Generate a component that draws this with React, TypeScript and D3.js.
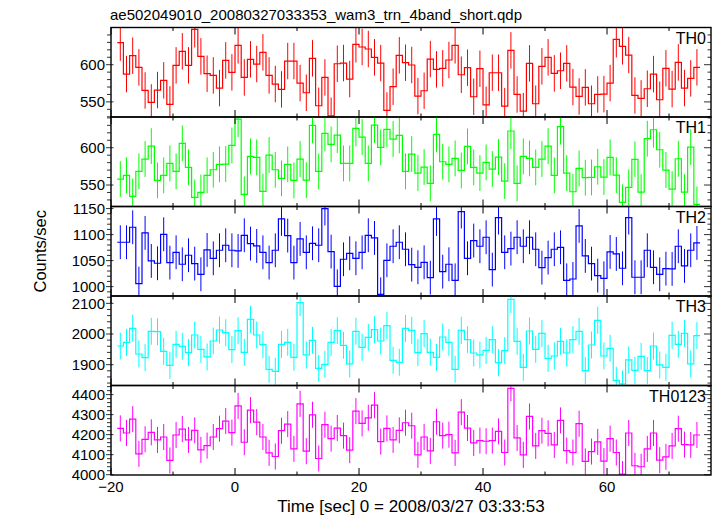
import React from 'react';
import * as d3 from 'd3';

// ---- data (1-s bins, lower edges from -19 to 74) ----
const firstBinEdge = -19;
const binWidth = 1;

const th0 = [
  629.6, 587.4, 612.1, 596.4, 565.4, 549.3, 565.9, 578.9, 546.6, 599.1,
  618.0, 599.1, 647.6, 611.2, 587.9, 585.6, 568.6, 605.8, 589.7, 626.0,
  582.9, 607.2, 600.9, 616.6, 585.6, 574.0, 566.8, 604.9, 604.9, 575.3,
  562.3, 608.5, 544.8, 582.9, 531.3, 601.3, 602.2, 580.7, 627.4, 623.8,
  621.1, 609.9, 602.2, 538.5, 570.4, 612.6, 602.7, 599.6, 557.8, 565.0,
  607.6, 593.7, 595.1, 606.3, 626.0, 586.5, 596.0, 556.9, 594.6, 546.1,
  589.2, 589.2, 544.3, 619.3, 560.0, 537.6, 601.8, 547.5, 597.8, 609.9,
  588.3, 591.9, 601.8, 569.9, 557.3, 569.5, 547.5, 560.0, 560.5, 575.3,
  634.1, 624.7, 613.0, 558.7, 554.7, 567.7, 587.4, 552.9, 595.1, 567.2,
  603.1, 568.6, 581.6, 596.4,
];

const th1 = [
  558.0, 562.9, 534.7, 568.3, 584.8, 602.2, 556.2, 562.9, 579.0, 568.3,
  605.8, 573.6, 533.4, 540.1, 562.9, 570.5, 577.7, 578.1, 603.1, 638.4,
  537.4, 588.4, 587.0, 541.4, 590.2, 570.5, 558.9, 577.7, 556.2, 584.8,
  556.6, 629.9, 568.3, 619.2, 604.5, 617.0, 579.0, 579.0, 625.9, 614.3,
  579.0, 630.4, 600.4, 624.6, 611.6, 616.5, 568.3, 591.5, 566.0, 574.1,
  552.2, 617.9, 581.2, 577.7, 585.7, 569.6, 601.8, 573.6, 566.0, 580.3,
  571.4, 587.5, 555.3, 622.4, 552.2, 588.4, 585.7, 573.6, 584.8, 602.2,
  562.9, 628.2, 566.0, 541.0, 572.3, 559.8, 560.2, 574.5, 560.7, 587.0,
  563.3, 526.7, 546.8, 584.4, 540.5, 612.1, 624.1, 597.3, 570.1, 544.6,
  585.2, 540.5, 600.9, 524.0,
];

const th2 = [
  1085.3, 1085.3, 1114.1, 1005.8, 1103.2, 1049.4, 1044.9, 1100.6, 1046.2, 1066.0,
  1043.0, 1060.3, 1044.2, 1023.7, 1070.5, 1054.5, 1069.9, 1079.5, 1069.9, 1068.6,
  1098.7, 1082.7, 1078.2, 1066.0, 1046.2, 1069.9, 1130.1, 1098.1, 1046.2, 1091.7,
  1066.0, 1083.3, 1079.5, 1150.0, 1067.3, 1000.6, 1052.6, 1064.1, 1054.5, 1066.0,
  1098.7, 1093.6, 985.3, 1050.6, 1077.6, 1085.3, 1071.8, 1042.3, 1037.2, 1046.8,
  1017.3, 1130.1, 1028.8, 1043.0, 1012.2, 1144.2, 1054.5, 1088.5, 1077.6, 1094.9,
  1032.7, 1132.7, 1066.0, 1073.1, 1094.9, 1077.6, 1094.9, 1071.8, 1036.5, 1055.8,
  1071.8, 1075.6, 1012.2, 1014.7, 1116.7, 1059.0, 1044.2, 1021.2, 1016.0, 1066.7,
  1062.8, 1035.3, 1132.7, 1018.0, 1018.0, 1069.9, 1037.2, 1023.7, 1034.6, 1034.0,
  1077.6, 1039.8, 1069.9, 1084.0,
];

const th3 = [
  1960.9, 1972.9, 2018.5, 1934.8, 1922.9, 2008.7, 2007.6, 1943.5, 1897.9, 1966.3,
  1959.8, 1939.2, 1996.7, 1950.0, 1925.1, 1977.2, 2013.0, 2004.3, 1949.0, 2010.9,
  1940.3, 2047.8, 1996.7, 1965.2, 1884.9, 1878.4, 1966.3, 1972.9, 1924.0, 2102.1,
  1931.6, 1979.4, 1888.1, 1901.2, 1972.9, 2010.9, 1963.1, 1902.3, 2008.7, 1956.6,
  1989.1, 2014.1, 1977.2, 2027.2, 1914.2, 1907.7, 2018.5, 2011.9, 1939.2, 2001.1,
  1940.3, 1924.0, 1990.2, 1972.9, 1884.9, 2011.9, 1981.5, 1938.1, 1931.6, 1946.8,
  1981.5, 1906.6, 1945.7, 2112.9, 1976.1, 1891.4, 2009.8, 1950.0, 2002.2, 1920.7,
  1928.3, 1976.1, 1938.1, 1981.5, 2008.7, 1880.5, 1964.2, 2044.5, 1928.3, 1953.3,
  1849.0, 1837.1, 1915.3, 1881.6, 1927.2, 1880.5, 1960.9, 1899.0, 1891.4, 1995.7,
  1966.3, 2002.2, 1902.3, 1994.6,
];

const th0123 = [
  4231.4, 4208.3, 4277.7, 4104.1, 4176.9, 4211.6, 4173.6, 4188.4, 4071.1, 4198.4,
  4228.1, 4173.6, 4221.5, 4124.0, 4145.5, 4188.4, 4229.8, 4267.8, 4209.9, 4343.8,
  4162.0, 4322.3, 4262.8, 4188.4, 4109.1, 4090.9, 4219.8, 4252.9, 4128.9, 4353.7,
  4117.4, 4299.2, 4081.0, 4249.6, 4180.2, 4233.1, 4195.1, 4122.3, 4317.4, 4256.2,
  4284.3, 4347.1, 4165.3, 4231.4, 4173.6, 4221.5, 4259.5, 4244.6, 4099.2, 4188.4,
  4119.0, 4264.5, 4195.1, 4200.0, 4109.1, 4312.4, 4233.1, 4158.7, 4170.3, 4167.0,
  4170.3, 4216.5, 4110.8, 4431.4, 4183.5, 4099.2, 4290.9, 4143.8, 4219.8, 4206.6,
  4148.8, 4271.1, 4120.7, 4110.8, 4254.6, 4066.1, 4115.7, 4163.6, 4067.8, 4180.2,
  4110.8, 4003.3, 4208.3, 4044.6, 4039.7, 4128.9, 4208.3, 4072.7, 4089.3, 4143.8,
  4229.8, 4150.4, 4148.8, 4198.4,
];

const panelNames = ['TH0', 'TH1', 'TH2', 'TH3', 'TH0123'];
const panelSeries = [th0, th1, th2, th3, th0123];
const panelColors = ['#ff0000', '#00ff00', '#0000ff', '#00ffff', '#ff00ff'];
const panelErrors = [24.5, 24, 32.5, 44, 65];
const panelDomains: [number, number][] = [
  [529.7, 650], [521.2, 641.2], [982, 1154], [1832, 2124], [3998.5, 4445.5],
];
const panelMajorTicks = [
  [550, 600], [550, 600], [1000, 1050, 1100, 1150], [1900, 2000, 2100],
  [4000, 4100, 4200, 4300, 4400],
];
const panelMinorStep = [10, 10, 10, 20, 20];
const xDomain: [number, number] = [-20, 76.77];
const xLabelTicks = [-20, 0, 20, 40, 60];
const xMinorStep = 10;

const title = 'ae502049010_20080327033353_wam3_trn_4band_short.qdp';
const xTitle = 'Time [sec] 0 = 2008/03/27 03:33:53';
const yTitle = 'Counts/sec';

// ---- layout ----
const W = 717, H = 516;
const left = 111, right = 711;
const top = 27.5, bottom = 475;
const nPanels = 5;
const ph = (bottom - top) / nPanels;
const font = 'Liberation Sans, Arial, Helvetica, sans-serif';

export default function App() {
  const x = d3.scaleLinear().domain(xDomain).range([left, right]);
  const xTickVals = d3.range(-20, 76.7, xMinorStep);
  const line = d3.line<[number, number]>().x(d => d[0]).y(d => d[1]);

  return (
    <svg width={W} height={H} viewBox={`0 0 ${W} ${H}`}
      style={{ position: 'absolute', left: 0, top: 0, background: '#fff' }}
      fontFamily={font}>
      <rect x={0} y={0} width={W} height={H} fill="#fff" />
      <defs>
        {panelNames.map((n, i) => (
          <clipPath id={`clip${i}`} key={n}>
            <rect x={left} y={top + i * ph} width={right - left} height={ph} />
          </clipPath>
        ))}
      </defs>
      <text x={left - 1} y={20} fontSize={15} fill="#000">{title}</text>
      {panelNames.map((name, i) => {
        const y0 = top + i * ph;
        const y1 = y0 + ph;
        const y = d3.scaleLinear().domain(panelDomains[i]).range([y1, y0]);
        const vals = panelSeries[i];
        const pts: [number, number][] = [];
        vals.forEach((v, k) => {
          const e0 = firstBinEdge + k * binWidth;
          pts.push([x(e0), y(v)]);
          pts.push([x(e0 + binWidth), y(v)]);
        });
        const err = panelErrors[i];
        const color = panelColors[i];
        const [d0, d1] = panelDomains[i];
        const minorVals = d3.range(Math.ceil(d0 / panelMinorStep[i]) * panelMinorStep[i], d1, panelMinorStep[i]);
        const majors = panelMajorTicks[i];
        return (
          <g key={name}>
            <g clipPath={`url(#clip${i})`}>
              {vals.map((v, k) => {
                const c = x(firstBinEdge + (k + 0.5) * binWidth);
                return <line key={k} x1={c} x2={c} y1={y(v - err)} y2={y(v + err)} stroke={color} strokeWidth={1} />;
              })}
              <path d={line(pts) || ''} fill="none" stroke={color} strokeWidth={1.2} />
            </g>
            {minorVals.map(t => {
              const isMajor = majors.some(m => Math.abs(m - t) < 1e-6);
              const yy = y(t);
              return (
                <g key={t}>
                  <line x1={isMajor ? left - 5 : left - 4} x2={isMajor ? left + 2.5 : left} y1={yy} y2={yy} stroke="#333" strokeWidth={1} />
                  <line x1={right} x2={right - (isMajor ? 7 : 3.5)} y1={yy} y2={yy} stroke="#333" strokeWidth={1} />
                </g>
              );
            })}
            {majors.map(t => (
              <text key={t} x={left - 6} y={y(t)} dy="0.36em" textAnchor="end" fontSize={15} fill="#000">{t}</text>
            ))}
            {xTickVals.map(t => {
              const isMajor = xLabelTicks.includes(t);
              const len = isMajor ? 7 : 3.5;
              const xx = x(t);
              return (
                <g key={t}>
                  <line x1={xx} x2={xx} y1={y0} y2={y0 + len} stroke="#000" strokeWidth={1} />
                  <line x1={xx} x2={xx} y1={y1} y2={y1 - len} stroke="#000" strokeWidth={1} />
                </g>
              );
            })}
            <rect x={left} y={y0} width={right - left} height={ph} fill="none" stroke="#000" strokeWidth={1.4} />
            <text x={706} y={y0 + 16} textAnchor="end" fontSize={16} fill="#000">{name}</text>
          </g>
        );
      })}
      {xLabelTicks.map(t => (
        <text key={t} x={x(t)} y={492} textAnchor="middle" fontSize={15} fill="#000">{t < 0 ? `\u2212${-t}` : t}</text>
      ))}
      <text x={(left + right) / 2} y={512} textAnchor="middle" fontSize={17} fill="#000">{xTitle}</text>
      <text transform={`translate(46,${(top + bottom) / 2}) rotate(-90)`} textAnchor="middle" fontSize={16.5} fill="#000">{yTitle}</text>
    </svg>
  );
}
